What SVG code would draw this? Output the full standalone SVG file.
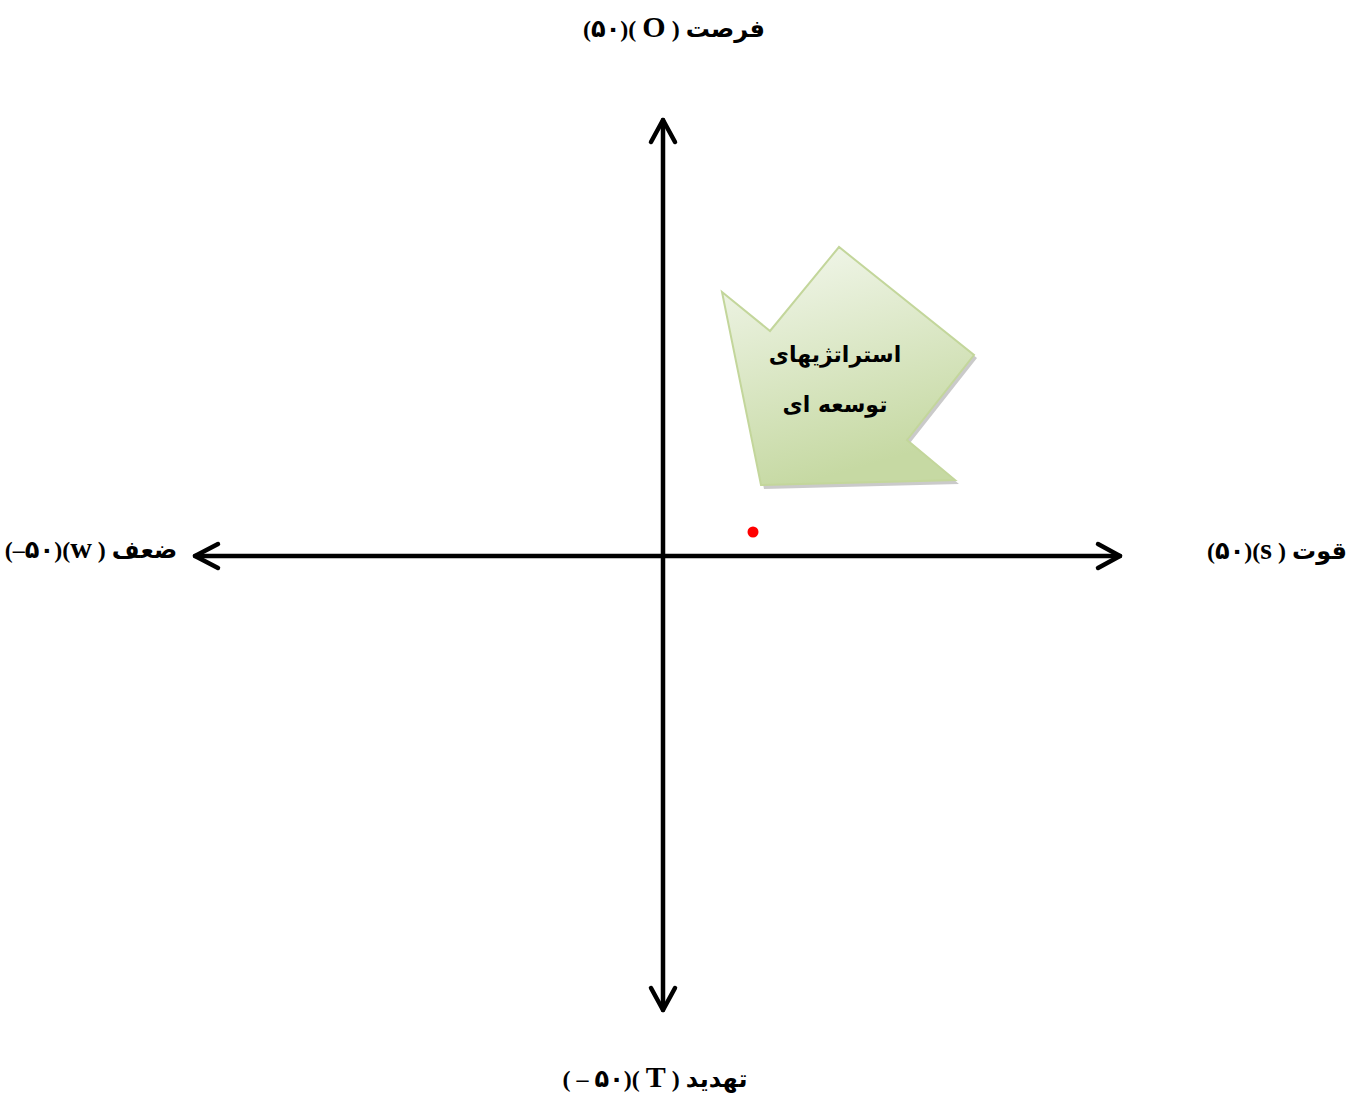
<svg xmlns="http://www.w3.org/2000/svg" width="1351" height="1095" viewBox="0 0 1351 1095">
<style>
.lbl{font-family:"Liberation Serif","DejaVu Sans",serif;font-weight:bold;font-size:24px;fill:#000}
.big{font-size:30px}
.ax{stroke:#000;stroke-width:4.5;fill:none;stroke-linecap:round;stroke-linejoin:round}
.in{font-family:"DejaVu Sans","Liberation Serif",sans-serif;font-weight:bold;font-size:22px;fill:#000;text-anchor:middle}
</style>
<defs>
<linearGradient id="g" x1="0" y1="0" x2="0.3" y2="1">
<stop offset="0" stop-color="#f4f8ef"/>
<stop offset="1" stop-color="#c6d9a3"/>
</linearGradient>
</defs>
<rect width="1351" height="1095" fill="#fff"/>
<g id="connectors">
<line class="ax" x1="663" y1="120" x2="663" y2="1010"/>
<polyline class="ax" points="651,142 663,120 675,142"/>
<polyline class="ax" points="651,988 663,1010 675,988"/>
<line class="ax" x1="195" y1="556" x2="1120" y2="556"/>
<polyline class="ax" points="218,544 195,556 218,568"/>
<polyline class="ax" points="1098,544 1120,556 1098,568"/>
</g>
<g id="label-o"><text class="lbl" x="674" y="37" text-anchor="middle">(۵۰)( <tspan class="big">O</tspan> ) فرصت</text></g>
<g id="label-w"><text class="lbl" x="91" y="558" text-anchor="middle">(–۵۰)(<tspan class="big">w</tspan> ) ضعف</text></g>
<g id="label-s"><text class="lbl" x="1277" y="559" text-anchor="middle">(۵۰)(<tspan class="big">s</tspan> ) قوت</text></g>
<g id="label-t"><text class="lbl" x="655" y="1087" text-anchor="middle">( – ۵۰)( <tspan class="big">T</tspan> ) تهدید</text></g>
<g id="point"><circle cx="753" cy="532" r="5.5" fill="#ff0000"/></g>
<g id="strategy">
<polygon points="725,296 773,334 841,250 977,358 910,443 959,484 764,489" fill="#a6a6a6" opacity="0.6"/>
<polygon points="722,292 770,331 839,247 974,355 907,440 955,480 761,485" fill="url(#g)" stroke="#c3d69b" stroke-width="2"/>
<text class="in" x="835" y="362">استراتژیهای</text>
<text class="in" x="835" y="412">توسعه ای</text>
</g>
</svg>
